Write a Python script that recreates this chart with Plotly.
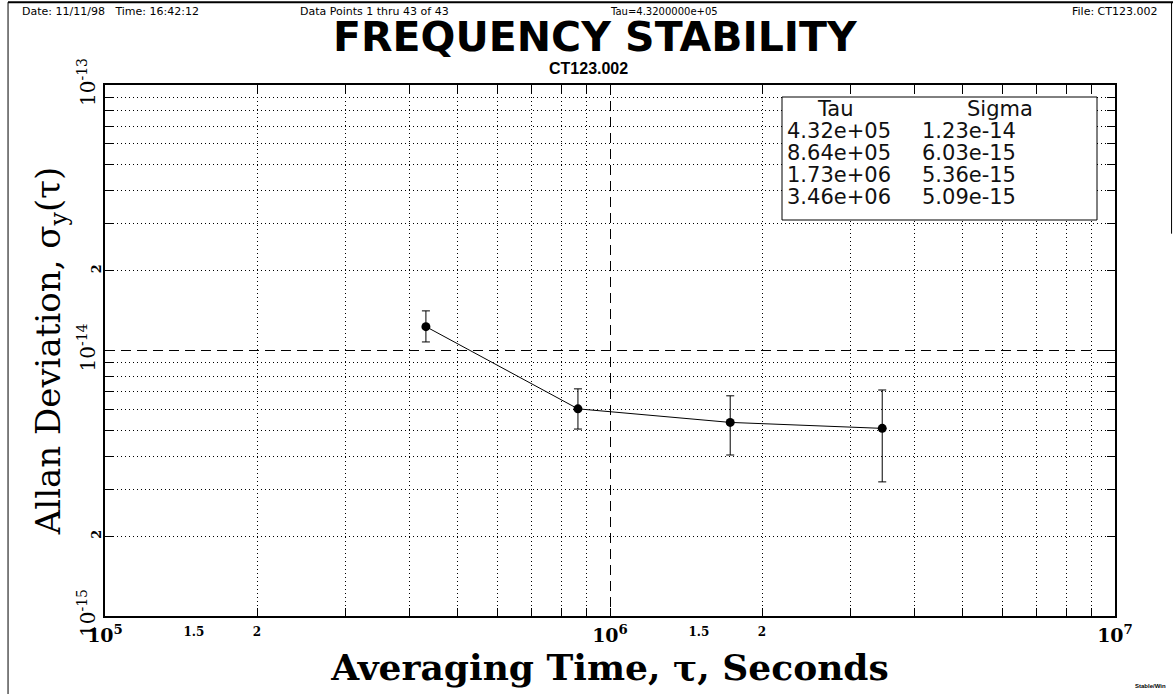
import plotly.graph_objects as go

# ---- data ----
tau = [4.32e5, 8.64e5, 1.73e6, 3.46e6]
sigma = [1.23e-14, 6.03e-15, 5.36e-15, 5.09e-15]
sigma_hi = [1.41e-14, 7.17e-15, 6.75e-15, 7.10e-15]
sigma_lo = [1.077e-14, 5.06e-15, 4.04e-15, 3.20e-15]

tau_text = ["4.32e+05", "8.64e+05", "1.73e+06", "3.46e+06"]
sigma_text = ["1.23e-14", "6.03e-15", "5.36e-15", "5.09e-15"]

x_major = [1e5, 1e6, 1e7]
x_major_text = ["<b>10<sup>5</sup></b>", "<b>10<sup>6</sup></b>", "<b>10<sup>7</sup></b>"]
x_sub = [1.5e5, 2e5, 1.5e6, 2e6]
x_sub_text = ["<b>1.5</b>", "<b>2</b>", "<b>1.5</b>", "<b>2</b>"]
x_minor = [m * d for d in (1e5, 1e6) for m in range(2, 10)]

y_major = [1e-15, 1e-14, 1e-13]
y_major_text = ["10<sup>-15</sup>", "10<sup>-14</sup>", "10<sup>-13</sup>"]
y_sub = [2e-15, 2e-14]
y_sub_text = ["<b>2</b>", "<b>2</b>"]
y_minor = [m * d for d in (1e-15, 1e-14) for m in range(2, 10)]

err_plus = [h - s for h, s in zip(sigma_hi, sigma)]
err_minus = [s - l for s, l in zip(sigma, sigma_lo)]

SERIF = "DejaVu Serif"
SANS = "DejaVu Sans"
DOT = "1px,3px"
DASH = "10px,6px"

fig = go.Figure()
fig.add_trace(go.Scatter(
    x=tau, y=sigma, mode="lines+markers",
    line=dict(color="black", width=1),
    marker=dict(color="black", size=9),
    error_y=dict(type="data", symmetric=False, array=err_plus, arrayminus=err_minus,
                 color="black", thickness=1, width=4),
    showlegend=False, hoverinfo="x+y",
))
# invisible traces binding the overlay label axes
fig.add_trace(go.Scatter(x=tau, y=sigma, xaxis="x2", yaxis="y", mode="markers",
                         marker=dict(opacity=0, size=1), showlegend=False, hoverinfo="skip"))
fig.add_trace(go.Scatter(x=tau, y=sigma, xaxis="x", yaxis="y2", mode="markers",
                         marker=dict(opacity=0, size=1), showlegend=False, hoverinfo="skip"))

axis_common = dict(showline=True, linecolor="black", linewidth=2, mirror="allticks",
                   ticks="inside", ticklen=8, tickcolor="black", tickwidth=1,
                   zeroline=False, gridcolor="black", gridwidth=1, griddash=DASH,
                   automargin=False)

fig.update_layout(
    width=1173, height=694,
    paper_bgcolor="white", plot_bgcolor="white",
    margin=dict(l=105, r=58, t=85, b=78, autoexpand=False),
    xaxis=dict(type="log", range=[5, 7], tickmode="array", tickvals=x_major,
               ticktext=x_major_text, showgrid=True, ticklabelstandoff=1,
               tickfont=dict(family=SERIF, size=19, color="black"),
               minor=dict(tickmode="array", tickvals=x_minor, ticks="inside", ticklen=5,
                          tickcolor="black", showgrid=True, gridcolor="black",
                          gridwidth=1, griddash=DOT),
               title=dict(text="<b>Averaging Time, τ, Seconds</b>",
                          font=dict(family=SERIF, size=36, color="black"), standoff=0),
               **axis_common),
    yaxis=dict(type="log", range=[-15, -13], tickmode="array", tickvals=y_major,
               ticktext=y_major_text, showgrid=True, tickangle=-90, ticklabelstandoff=0,
               tickfont=dict(family=SERIF, size=20, color="black"),
               minor=dict(tickmode="array", tickvals=y_minor, ticks="inside", ticklen=5,
                          tickcolor="black", showgrid=True, gridcolor="black",
                          gridwidth=1, griddash=DOT),
               title=dict(text="Allan Deviation, σ<sub>y</sub>(τ)",
                          font=dict(family=SERIF, size=34, color="black"), standoff=3),
               **axis_common),
    xaxis2=dict(type="log", range=[5, 7], overlaying="x", anchor="y", side="bottom",
                tickmode="array", tickvals=x_sub, ticktext=x_sub_text, ticklabelstandoff=7,
                showgrid=False, showline=False, zeroline=False, ticks="", automargin=False,
                tickfont=dict(family=SERIF, size=12, color="black")),
    yaxis2=dict(type="log", range=[-15, -13], overlaying="y", anchor="x", side="left",
                tickmode="array", tickvals=y_sub, ticktext=y_sub_text, tickangle=-90,
                ticklabelstandoff=0,
                showgrid=False, showline=False, zeroline=False, ticks="", automargin=False,
                tickfont=dict(family=SERIF, size=13, color="black")),
)

# figure border lines
fig.add_shape(type="line", xref="paper", yref="paper", x0=-0.096, x1=-0.096, y0=-0.16, y1=1.156,
              line=dict(color="black", width=1))
fig.add_shape(type="line", xref="paper", yref="paper", x0=-0.096, x1=1.06, y0=1.156, y1=1.156,
              line=dict(color="black", width=2))
fig.add_shape(type="line", xref="paper", yref="paper", x0=1.056, x1=1.056, y0=0.72, y1=1.156,
              line=dict(color="black", width=1))

# header texts
hdr = dict(family="DejaVu Sans", size=11, color="black")
hy = (616 - 12) / 531
fig.add_annotation(text="Date: 11/11/98   Time: 16:42:12", xref="paper", yref="paper",
                   x=(20 - 105) / 1010, y=hy, xanchor="left", yanchor="middle", showarrow=False, font=hdr)
fig.add_annotation(text="Data Points 1 thru 43 of 43", xref="paper", yref="paper",
                   x=(374 - 105) / 1010, y=hy, xanchor="center", yanchor="middle", showarrow=False, font=hdr)
fig.add_annotation(text="Tau=4.3200000e+05", xref="paper", yref="paper",
                   x=(664 - 105) / 1010, y=hy, xanchor="center", yanchor="middle", showarrow=False,
                   font=dict(family="DejaVu Sans", size=10, color="black"))
fig.add_annotation(text="File: CT123.002", xref="paper", yref="paper",
                   x=(1160 - 105) / 1010, y=hy, xanchor="right", yanchor="middle", showarrow=False, font=hdr)
# title
fig.add_annotation(text="<b>FREQUENCY STABILITY</b>", xref="paper", yref="paper",
                   x=(595 - 105) / 1010, y=(616 - 37) / 531, xanchor="center", yanchor="middle",
                   showarrow=False, font=dict(family=SANS, size=41, color="black"))
fig.add_annotation(text="<b>CT123.002</b>", xref="paper", yref="paper",
                   x=(588 - 105) / 1010, y=(616 - 68) / 531, xanchor="center", yanchor="middle",
                   showarrow=False, font=dict(family="Liberation Sans", size=16, color="black"))
fig.add_annotation(text="<b>Stable/Win</b>", xref="paper", yref="paper",
                   x=(1168 - 105) / 1010, y=(616 - 686) / 531, xanchor="right", yanchor="middle",
                   showarrow=False, font=dict(family="Liberation Sans", size=6, color="black"))

# sigma table box
bx0, bx1 = (782 - 105) / 1010, (1097 - 105) / 1010
by1, by0 = (616 - 97) / 531, (616 - 220) / 531
fig.add_shape(type="rect", xref="paper", yref="paper", x0=bx0, x1=bx1, y0=by0, y1=by1,
              line=dict(color="black", width=1), fillcolor="white", layer="above")
tf = dict(family="DejaVu Sans", size=21, color="#111")
fig.add_annotation(text="Tau", xref="paper", yref="paper", x=(835 - 105) / 1010,
                   y=(616 - 109) / 531, xanchor="center", yanchor="middle", showarrow=False, font=tf)
fig.add_annotation(text="Sigma", xref="paper", yref="paper", x=(1000 - 105) / 1010,
                   y=(616 - 109) / 531, xanchor="center", yanchor="middle", showarrow=False, font=tf)
for i, (t, s) in enumerate(zip(tau_text, sigma_text)):
    yy = (616 - (131 + 22 * i)) / 531
    fig.add_annotation(text=t, xref="paper", yref="paper", x=(785 - 105) / 1010, y=yy,
                       xanchor="left", yanchor="middle", showarrow=False, font=tf)
    fig.add_annotation(text=s, xref="paper", yref="paper", x=(920 - 105) / 1010, y=yy,
                       xanchor="left", yanchor="middle", showarrow=False, font=tf)

fig.write_html("out.html", config={"displayModeBar": False},
               post_script="document.body.style.margin='0px';")
